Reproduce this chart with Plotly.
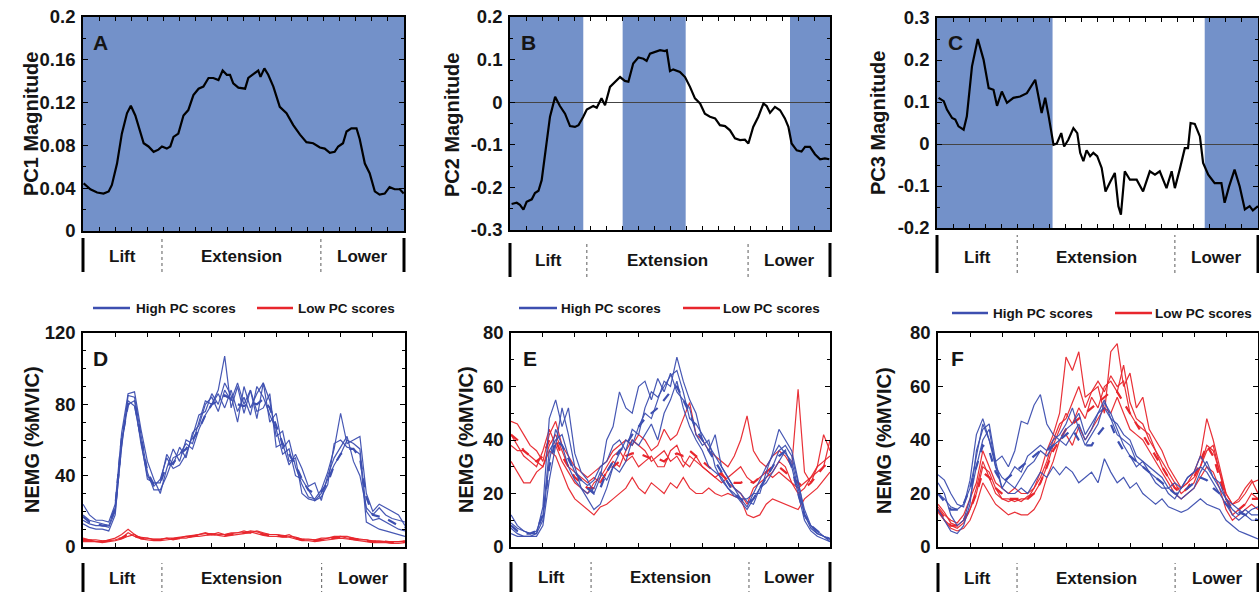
import plotly.graph_objects as go

# ---------------------------------------------------------------- data
# Panel A-C: principal-component loading vectors (x = % of lift cycle)
A_x = [0.2,2.3,4.4,6.4,8.0,9.0,10.6,12.1,13.7,14.9,16.3,17.8,18.9,20.4,22.0,23.5,24.6,26.1,27.2,28.2,
       29.7,31.3,32.8,34.4,36.0,37.5,39.1,40.6,42.2,43.5,44.8,45.8,46.8,48.4,50.5,51.5,53.1,54.6,55.3,56.5,
       57.7,59.3,61.3,63.4,65.5,67.6,69.6,71.7,73.8,75.3,76.9,78.4,79.5,81.0,82.1,83.6,85.2,86.2,87.8,89.3,
       90.9,92.4,94.0,95.5,97.1,98.7,99.9]
A_y = [0.0445,0.039,0.036,0.035,0.037,0.043,0.063,0.091,0.110,0.117,0.108,0.093,0.082,0.079,0.074,0.076,0.079,0.077,0.079,0.088,
       0.091,0.108,0.113,0.127,0.133,0.135,0.143,0.143,0.141,0.150,0.146,0.146,0.138,0.134,0.133,0.143,0.147,0.150,0.144,0.152,
       0.146,0.135,0.116,0.110,0.099,0.090,0.083,0.082,0.078,0.077,0.073,0.074,0.079,0.082,0.093,0.096,0.096,0.086,0.063,0.054,
       0.037,0.034,0.035,0.041,0.039,0.039,0.035]

B_x = [0.5,2.1,3.1,4.2,5.2,6.8,7.8,8.9,9.9,10.9,12.5,14.1,15.6,17.2,18.75,20.3,21.4,22.9,24.0,26.0,
       27.1,28.6,29.7,31.25,32.8,34.4,35.9,37.0,38.5,40.1,41.7,42.7,43.75,45.3,46.9,48.4,49.0,50.0,51.0,53.1,
       54.7,56.25,57.8,59.4,60.9,62.5,64.1,65.6,67.2,68.75,70.3,71.9,73.4,74.5,76.0,77.6,79.2,80.2,81.25,82.8,
       84.4,85.9,87.0,88.0,89.6,91.1,92.2,93.75,95.3,96.9,98.4,99.8]
B_y = [-0.239,-0.236,-0.241,-0.252,-0.234,-0.228,-0.213,-0.208,-0.183,-0.128,-0.034,0.0125,-0.009,-0.027,-0.056,-0.058,-0.054,-0.034,-0.017,-0.009,
       -0.013,0.009,-0.007,0.036,0.048,0.059,0.050,0.048,0.091,0.105,0.102,0.097,0.114,0.118,0.122,0.120,0.122,0.073,0.077,0.071,
       0.059,0.036,0.009,-0.003,-0.027,-0.034,-0.038,-0.054,-0.056,-0.066,-0.085,-0.089,-0.088,-0.097,-0.058,-0.034,-0.003,-0.009,-0.025,-0.011,
       -0.019,-0.038,-0.058,-0.097,-0.113,-0.116,-0.105,-0.105,-0.122,-0.134,-0.132,-0.134]

C_x = [0.5,2.1,3.1,4.7,5.7,6.7,8.3,9.3,10.9,12.7,14.5,16.1,17.6,18.7,20.2,21.8,23.8,25.9,28.0,30.6,
       32.6,33.7,34.7,36.3,37.3,38.7,39.6,40.9,42.5,43.7,44.6,45.6,46.6,47.7,48.7,49.9,51.3,52.5,53.9,55.4,
       56.5,57.3,58.5,60.1,62.2,64.2,66.3,67.9,69.4,71.5,73.1,74.1,75.6,77.2,78.2,79.0,80.3,81.9,82.9,84.5,
       86.5,88.6,89.6,91.0,92.7,94.3,95.9,97.4,98.4,100]
C_y = [0.110,0.102,0.082,0.062,0.058,0.042,0.034,0.066,0.185,0.250,0.201,0.133,0.129,0.091,0.125,0.098,0.110,0.113,0.121,0.153,
       0.074,0.110,0.070,-0.002,0.001,0.026,-0.006,0.010,0.038,0.026,-0.021,-0.041,-0.015,-0.029,-0.021,-0.029,-0.057,-0.113,-0.091,-0.069,
       -0.148,-0.168,-0.065,-0.085,-0.085,-0.113,-0.065,-0.073,-0.065,-0.105,-0.065,-0.105,-0.061,-0.010,-0.010,0.050,0.048,0.018,-0.045,-0.073,
       -0.093,-0.093,-0.140,-0.101,-0.061,-0.101,-0.156,-0.148,-0.158,-0.148]

# shaded (significant) regions, % of cycle
A_shade = [(0, 100)]
B_shade = [(0, 22.9), (35.2, 54.9), (87.5, 100)]
C_shade = [(0, 36.0), (83.4, 100)]

# Panels D-F: NEMG (%MVIC) sampled every 2 % of the cycle
pct_grid = list(range(0, 101, 2))

D_high_mean = [17,14,13,12,12,22,60,80,81,62, 42,35,36,46,47,52,55,60,66,74, 80,82,85,83,80,79,81,80,83,78,
               68,58,52,46,38,32,30,31,36,46, 52,55,55,50,28,18,17,16,14,12, 11]
D_high_1 = [24,18,15,15,14,24,64,86,87,66, 48,38,30,44,55,48,60,58,70,82, 80,88,107,78,90,75,88,72,92,70,
            75,55,60,45,35,28,27,32,42,55, 75,58,60,62,30,20,24,22,20,18, 12]
D_high_2 = [13,11,10,10,9,18,58,80,82,58, 40,34,38,50,44,46,52,62,74,76, 86,80,92,85,70,90,78,86,92,82,
            62,65,48,50,30,27,26,28,35,58, 60,56,55,52,14,12,10,9,8,7, 6]
D_high_3 = [18,15,14,13,12,22,60,82,79,60, 38,36,36,52,46,56,50,64,68,80, 84,76,88,82,92,80,88,76,78,86,
            56,58,46,52,44,34,36,26,40,50, 56,62,48,40,22,18,22,18,16,15, 14]
D_high_4 = [15,13,12,12,11,20,56,85,84,64, 42,32,32,40,50,52,58,55,66,74, 80,86,78,88,76,84,74,90,84,74,
            66,52,55,40,38,32,26,30,38,46, 52,60,58,55,20,15,16,14,12,10, 9]
D_low_mean = [4,3.5,3.5,3,3.5,4,5,7,6,5, 4.5,4,4,4.5,4.5,5,5.5,6,6.5,7, 7,7,6.5,7,7.5,8,8,8,7,6.5,
              6.5,6,6,5,4,4,3.5,4,4.5,5, 5.5,5,4.5,4,3.5,3,3,3,2.5,2.5, 3]
D_low_1 = [5,4,3,3,4,5,7,10,7,5, 5,4,4,5,4,5,6,6,7,8, 7,8,7,8,8,9,8,9,8,7,
           7,6,7,5,4,4,4,5,5,6, 6,5,5,4,4,3,3,3,3,3, 3]
D_low_2 = [3,3,3,2.5,3,3.5,4.5,6,7,4.5, 4,3.5,3.5,4,4.5,5,5,6,6,6.5, 7,6.5,6,6.5,7,7.5,8.5,7.5,6.5,6,
           6,5.5,5.5,4.5,3.5,3.5,3,3.5,4,4.5, 5,4.5,4,3.5,3,2.5,2.5,2.5,2,2, 2.5]
D_low_3 = [4.5,4,4,3.5,3.5,4,5,8,6,5.5, 5,4.5,4.5,5,5,5.5,6,6.5,7,7.5, 7.5,7,7,7.5,8,8,9,8.5,7.5,7,
           7,6.5,6,5.5,4.5,4.5,4,4,5,5.5, 6,6,5,4.5,4,3.5,3.5,3,3,3, 3.5]

E_high_mean = [8,6,5,5,6,12,30,40,38,33, 28,25,22,20,22,28,32,36,38,42, 45,48,50,52,55,58,60,55,50,44,
               40,36,32,28,24,20,18,16,18,22, 26,30,34,36,30,20,12,8,6,4, 3]
E_high_1 = [12,8,6,5,5,15,48,55,45,52, 35,28,25,20,26,40,45,58,52,50, 60,62,55,63,58,65,58,55,52,42,
            38,40,30,25,22,19,18,18,20,20, 28,35,44,40,36,25,12,8,6,4, 3]
E_high_2 = [7,5,4,4,4,8,25,38,52,42, 30,22,18,14,16,22,30,35,40,38, 45,50,48,55,62,60,71,62,55,50,
            40,36,42,30,26,22,18,15,20,25, 30,34,38,35,32,22,12,7,5,4, 2]
E_high_3 = [5,4,4,4,5,10,32,44,38,30, 25,22,20,22,28,25,30,28,32,40, 38,42,46,40,50,55,62,52,45,40,
            36,30,28,26,22,20,17,14,18,22, 24,28,32,36,30,20,10,6,4,3, 2]
E_high_4 = [9,7,6,5,6,12,36,40,42,34, 28,25,23,25,30,32,38,40,36,44, 42,52,58,56,60,64,66,58,48,46,
            42,38,34,30,26,22,20,17,16,22, 26,30,36,38,34,24,14,8,5,4, 3]
E_low_mean = [42,40,36,34,32,34,40,40,34,30, 26,24,22,22,24,28,30,32,34,35, 35,34,33,33,32,34,35,34,36,34,
              32,30,28,27,25,24,24,25,24,26, 28,30,30,28,26,24,22,24,27,30, 32]
E_low_1 = [47,46,42,38,36,32,42,47,38,34, 30,28,26,28,30,32,36,38,40,38, 42,40,36,38,44,40,42,48,54,42,
           40,36,34,32,30,34,40,49,36,32, 30,34,36,34,30,59,28,24,30,42, 36]
E_low_2 = [32,28,24,24,28,30,36,34,28,22, 18,16,14,12,15,16,18,20,22,26, 22,20,24,22,20,24,22,26,22,20,
           20,22,20,19,20,19,18,12,11,12, 16,18,17,16,15,14,18,20,22,25, 28]
E_low_3 = [42,38,34,32,30,36,44,38,32,28, 24,22,20,24,26,30,34,36,32,34, 30,32,34,30,30,36,38,32,30,34,
           30,28,26,28,24,22,20,16,22,24, 26,28,32,30,24,20,22,26,30,32, 34]
E_low_4 = [38,36,36,34,32,30,38,42,36,30, 28,26,24,26,24,28,32,30,36,40, 38,36,32,34,36,32,34,30,34,32,
           30,28,26,24,26,28,30,26,24,26, 28,26,28,26,24,22,24,26,28,30, 40]

F_high_mean = [20,17,14,14,16,22,30,38,36,28, 24,26,28,30,32,34,36,36,38,40, 42,44,40,38,38,42,45,46,40,36,
               34,32,30,28,26,24,22,20,20,22, 24,26,25,22,20,16,14,13,12,11, 10]
F_high_1 = [27,25,20,16,15,25,42,48,40,32, 34,30,36,47,46,53,57,46,42,40, 38,42,46,40,44,50,55,48,46,42,
            40,34,32,30,28,26,22,24,22,26, 28,34,30,26,24,18,16,14,12,10, 10]
F_high_2 = [24,20,12,8,10,18,30,40,44,30, 22,20,20,22,20,24,28,26,30,27, 30,28,24,26,28,24,33,28,24,26,
            22,24,20,18,16,18,15,14,13,14, 16,18,16,15,14,10,8,6,5,4, 3]
F_high_3 = [14,10,6,5,8,16,36,44,46,32, 22,26,30,28,34,36,38,36,40,42, 46,52,44,38,42,46,54,50,44,38,
            34,30,32,28,26,24,20,18,22,26, 28,30,28,24,20,16,12,10,12,14, 15]
F_high_4 = [20,18,15,14,16,22,34,46,40,30, 26,24,22,26,30,32,36,34,38,40, 44,46,50,42,46,50,52,48,42,40,
            38,32,30,28,24,22,22,20,18,20, 22,28,32,26,22,18,14,12,14,12, 12]
F_low_mean = [14,11,8,8,10,14,20,28,26,22, 20,18,18,18,18,20,24,30,36,40, 44,46,48,50,52,54,56,58,58,54,
              50,46,42,38,34,30,26,22,20,22, 26,32,38,34,26,18,14,14,16,18, 18]
F_low_1 = [15,12,10,9,12,18,24,36,30,24, 22,20,22,20,20,22,28,36,42,50, 71,66,73,56,58,60,50,73,76,60,
           65,52,56,44,40,36,30,26,22,24, 28,34,48,40,30,20,16,18,22,25, 20]
F_low_2 = [13,10,7,6,7,10,16,24,20,16, 14,12,13,12,12,14,18,26,32,40, 42,38,45,40,44,48,52,50,56,50,
           44,42,40,36,32,28,24,20,18,20, 22,26,30,28,22,14,10,12,14,16, 14]
F_low_3 = [14,10,8,7,9,14,20,30,28,22, 18,17,18,17,19,20,24,30,38,44, 50,46,52,48,56,52,60,62,58,68,
           54,48,46,40,36,32,28,24,20,22, 24,30,38,36,28,18,12,14,16,20, 18]
F_low_4 = [16,13,9,8,10,14,22,32,26,20, 18,18,17,18,18,22,26,32,40,46, 48,54,60,52,58,62,58,64,60,62,
           50,46,44,42,36,30,26,22,22,24, 26,30,36,38,28,20,16,17,20,24, 25]

# phase boundaries (end of Lift, start of Lower), % of cycle
A_phase = (24.6, 74.1)
B_phase = (24.0, 74.4)
C_phase = (25.0, 74.1)
D_phase = (24.5, 74.1)
E_phase = (25.1, 74.6)
F_phase = (24.7, 74.1)
phase_names = ["Lift", "Extension", "Lower"]

# axis ticks
A_yticks, A_ylab = [0, 0.04, 0.08, 0.12, 0.16, 0.2], ["0", "0.04", "0.08", "0.12", "0.16", "0.2"]
B_yticks, B_ylab = [-0.3, -0.2, -0.1, 0, 0.1, 0.2], ["-0.3", "-0.2", "-0.1", "0", "0.1", "0.2"]
C_yticks, C_ylab = [-0.2, -0.1, 0, 0.1, 0.2, 0.3], ["-0.2", "-0.1", "0", "0.1", "0.2", "0.3"]
D_yticks, D_ylab = [0, 40, 80, 120], ["0", "40", "80", "120"]
E_yticks, E_ylab = [0, 20, 40, 60, 80], ["0", "20", "40", "60", "80"]
F_yticks, F_ylab = [0, 20, 40, 60, 80], ["0", "20", "40", "60", "80"]

legend_labels = ["High PC scores", "Low PC scores"]

# ---------------------------------------------------------------- style / layout
W, H = 1259, 592
SHADE = "#7391c9"
BLUE = "#3d4fb0"
RED = "#e8262d"
TXT = "#151515"
FONT = "Liberation Sans"


def fx(px):
    return px / W


def fy(py):
    return 1 - py / H


panels = [
    dict(n="", L="A", box=(83, 404, 17, 231), yr=(0, 0.2), yt=(A_yticks, A_ylab), ym=0.02, xd=5,
         title="PC1 Magnitude", tpos=(31, 124), lpos=(100, 43), ph=A_phase, phy=(238, 272, 256),
         shade=A_shade, zero=False),
    dict(n="2", L="B", box=(510, 830, 17, 230), yr=(-0.3, 0.2), yt=(B_yticks, B_ylab), ym=0.05, xd=5,
         title="PC2 Magnitude", tpos=(452, 125), lpos=(528, 43), ph=B_phase, phy=(243, 277, 260),
         shade=B_shade, zero=True),
    dict(n="3", L="C", box=(937, 1258, 18, 228), yr=(-0.2, 0.3), yt=(C_yticks, C_ylab), ym=0.05, xd=5,
         title="PC3 Magnitude", tpos=(878, 123), lpos=(955, 43), ph=C_phase, phy=(235, 273, 257),
         shade=C_shade, zero=True),
    dict(n="4", L="D", box=(83, 405, 333, 547), yr=(0, 120), yt=(D_yticks, D_ylab), ym=10, xd=10,
         title="NEMG (%MVIC)", tpos=(32, 440), lpos=(100, 358), ph=D_phase, phy=(563, 600, 578),
         shade=[], zero=False, leg=(308, 93, 130, 134, 257, 293, 296),
         high=[D_high_1, D_high_2, D_high_3, D_high_4], high_mean=D_high_mean,
         low=[D_low_1, D_low_2, D_low_3], low_mean=D_low_mean),
    dict(n="5", L="E", box=(511, 830, 333, 547), yr=(0, 80), yt=(E_yticks, E_ylab), ym=10, xd=10,
         title="NEMG (%MVIC)", tpos=(466, 440), lpos=(530, 358), ph=E_phase, phy=(562, 600, 577),
         shade=[], zero=False, leg=(308, 519, 557, 559, 683, 720, 721),
         high=[E_high_1, E_high_2, E_high_3, E_high_4], high_mean=E_high_mean,
         low=[E_low_1, E_low_2, E_low_3, E_low_4], low_mean=E_low_mean),
    dict(n="6", L="F", box=(938, 1258, 333, 547), yr=(0, 80), yt=(F_yticks, F_ylab), ym=10, xd=10,
         title="NEMG (%MVIC)", tpos=(884, 441), lpos=(957, 358), ph=F_phase, phy=(563, 600, 578),
         shade=[], zero=False, leg=(313, 952, 988, 991, 1115, 1152, 1153),
         high=[F_high_1, F_high_2, F_high_3, F_high_4], high_mean=F_high_mean,
         low=[F_low_1, F_low_2, F_low_3, F_low_4], low_mean=F_low_mean),
]

top_data = {"A": (A_x, A_y), "B": (B_x, B_y), "C": (C_x, C_y)}

fig = go.Figure()
shapes = []
annotations = []
layout = {}

for p in panels:
    n = p["n"]
    xa, ya = "x" + n, "y" + n
    x0, x1, y0, y1 = p["box"]
    layout["xaxis" + n] = dict(
        domain=[fx(x0), fx(x1)], range=[0, 100], anchor=ya, showticklabels=False, automargin=False,
        showgrid=False, zeroline=False, showline=True, linecolor="black", linewidth=1.5,
        mirror="allticks", ticks="inside", ticklen=4, tickwidth=1, tickcolor="black",
        tick0=0, dtick=p["xd"], fixedrange=True)
    layout["yaxis" + n] = dict(
        domain=[fy(y1), fy(y0)], range=list(p["yr"]), anchor=xa, automargin=False,
        tickvals=p["yt"][0], ticktext=p["yt"][1], showgrid=False,
        zeroline=p["zero"], zerolinecolor="#444", zerolinewidth=1,
        showline=True, linecolor="black", linewidth=1.5, mirror="allticks",
        ticks="inside", ticklen=5, tickwidth=1, tickcolor="black",
        minor=dict(ticks="inside", ticklen=3, tickcolor="black", dtick=p["ym"], tick0=0),
        tickfont=dict(family=FONT, size=18.5, color=TXT, weight="bold"),
        ticklabelstandoff=2, fixedrange=True)

    # shaded regions
    for (s0, s1) in p["shade"]:
        shapes.append(dict(type="rect", xref=xa, yref=ya + " domain", x0=s0, x1=s1, y0=0, y1=1,
                           fillcolor=SHADE, line=dict(width=0), layer="below"))

    # data
    if p["L"] in top_data:
        tx, ty = top_data[p["L"]]
        fig.add_trace(go.Scatter(x=tx, y=ty, xaxis=xa, yaxis=ya, mode="lines",
                                 line=dict(color="black", width=2.2), showlegend=False, hoverinfo="skip"))
    else:
        for grp, mean, col in ((p["low"], p["low_mean"], RED), (p["high"], p["high_mean"], BLUE)):
            for s in grp:
                fig.add_trace(go.Scatter(x=pct_grid, y=s, xaxis=xa, yaxis=ya, mode="lines",
                                         line=dict(color=col, width=1.2), opacity=0.95,
                                         showlegend=False, hoverinfo="skip"))
            fig.add_trace(go.Scatter(x=pct_grid, y=mean, xaxis=xa, yaxis=ya, mode="lines",
                                     line=dict(color=col, width=2.2, dash="dash"),
                                     showlegend=False, hoverinfo="skip"))
        # legend drawn as line + label
        ly, b0, b1, bt, r0, r1, rt = p["leg"]
        for (l0, l1, lt, col, lab) in ((b0, b1, bt, BLUE, legend_labels[0]),
                                        (r0, r1, rt, RED, legend_labels[1])):
            shapes.append(dict(type="line", xref="paper", yref="paper", x0=fx(l0), x1=fx(l1),
                               y0=fy(ly), y1=fy(ly), line=dict(color=col, width=2.5)))
            annotations.append(dict(text=lab, xref="paper", yref="paper", x=fx(lt), y=fy(ly),
                                    xanchor="left", yanchor="middle", showarrow=False,
                                    font=dict(family=FONT, size=13.5, color=TXT, weight="bold")))

    # y-axis title and panel letter
    annotations.append(dict(text=p["title"], xref="paper", yref="paper", x=fx(p["tpos"][0]),
                            y=fy(p["tpos"][1]), textangle=-90, showarrow=False,
                            xanchor="center", yanchor="middle",
                            font=dict(family=FONT, size=20, color=TXT, weight="bold")))
    annotations.append(dict(text=p["L"], xref="paper", yref="paper", x=fx(p["lpos"][0]),
                            y=fy(p["lpos"][1]), showarrow=False, xanchor="center", yanchor="middle",
                            font=dict(family=FONT, size=21, color=TXT, weight="bold")))

    # phase bar below the panel
    py0, py1, pyt = p["phy"]
    for xe in (x0, x1):
        shapes.append(dict(type="line", xref="paper", yref="paper", x0=fx(xe), x1=fx(xe),
                           y0=fy(py1), y1=fy(py0), line=dict(color="black", width=3)))
    for xe in p["ph"]:
        shapes.append(dict(type="line", xref=xa, yref="paper", x0=xe, x1=xe, y0=fy(py1), y1=fy(py0),
                           line=dict(color="#777", width=1.2, dash="dot")))
    bounds = [0, p["ph"][0], p["ph"][1], 100]
    for k, name in enumerate(phase_names):
        annotations.append(dict(text=name, xref=xa, yref="paper", x=(bounds[k] + bounds[k + 1]) / 2,
                                y=fy(pyt), showarrow=False, xanchor="center", yanchor="middle",
                                font=dict(family=FONT, size=17, color=TXT, weight="bold")))

fig.update_layout(
    width=W, height=H, margin=dict(l=0, r=0, t=0, b=0, autoexpand=False),
    paper_bgcolor="white", plot_bgcolor="rgba(0,0,0,0)",
    showlegend=False, shapes=shapes, annotations=annotations, **layout)

fig.write_html("out.html", config={"displayModeBar": False},
               post_script="document.body.style.margin='0px';document.body.style.overflow='hidden';")
